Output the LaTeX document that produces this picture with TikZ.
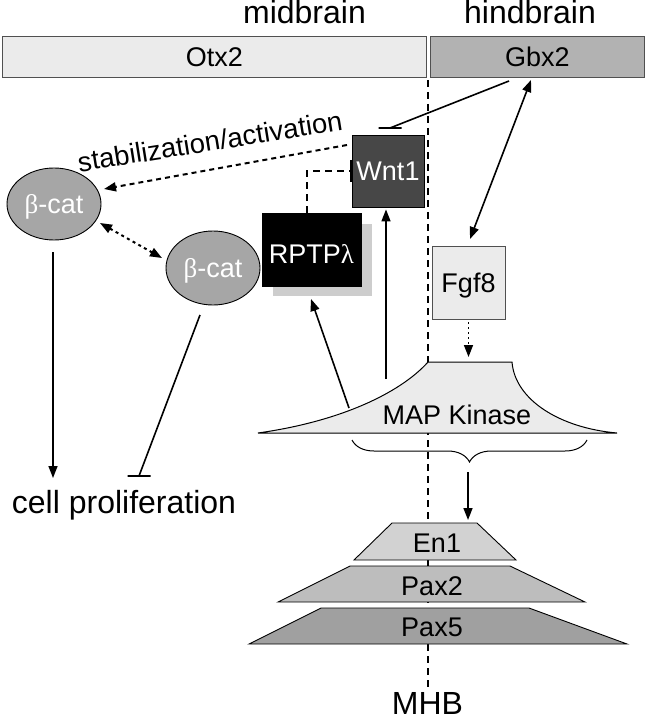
\documentclass[tikz,border=0pt]{standalone}
\usepackage{fontspec}
\setmainfont{Liberation Sans}
\newfontfamily\greekfont{Liberation Serif}
\usetikzlibrary{arrows.meta,decorations.pathreplacing,shapes.geometric,calc}
\definecolor{barlight}{HTML}{EBEBEB}
\definecolor{bargbx}{HTML}{B2B2B2}
\definecolor{catgray}{HTML}{A6A6A6}
\definecolor{wntgray}{HTML}{474747}
\definecolor{shadowgray}{HTML}{CDCDCD}
\definecolor{engray}{HTML}{D2D2D2}
\definecolor{paxtwo}{HTML}{BDBDBD}
\definecolor{paxfive}{HTML}{A0A0A0}
\definecolor{edgegray}{HTML}{505050}
\begin{document}
\begin{tikzpicture}[x=1pt,y=-1pt,
  lab/.style={font=\fontsize{27}{31}\selectfont, text height=19.3pt, text depth=0pt, inner sep=0pt},
  biglab/.style={font=\fontsize{32}{36}\selectfont, inner sep=0pt},
  conn/.style={line width=1.6pt},
  tri/.tip={Triangle[length=12pt,width=9pt]},
  arr/.style={conn, -tri},
  darr/.style={conn, tri-tri},
  outl/.style={line width=0.9pt}]

\fill[white] (0,0) rectangle (647,719);
\useasboundingbox (0,0) rectangle (647,719);

% MHB dashed line
\coordinate (mhbtop) at (428,80);
\coordinate (mhbbot) at (428,688);
\draw[line width=1.2pt, dash pattern=on 7pt off 5pt] (mhbtop) -- (mhbbot);

% headings
\node[biglab, anchor=base] (mid) at (304.5,24) {midbrain};
\node[biglab, anchor=base] (hind) at (530,24) {hindbrain};

% bars
\node[lab, draw=edgegray, fill=barlight, outl, anchor=north west, minimum width=424, minimum height=41] (otx) at (2,36) {Otx2};
\node[lab, draw=edgegray, fill=bargbx, outl, anchor=north west, minimum width=214, minimum height=41] (gbx) at (430,36) {Gbx2};

% MAP kinase
\draw[fill=barlight, line width=1pt] (258,433) .. controls (350,420) and (405,388) .. (428,362) -- (512,362) .. controls (515,400) and (560,428) .. (617,433) -- cycle;
\node[lab] (map) at (457,414.5) {MAP Kinase};
\draw[line width=1pt, decorate, decoration={brace, mirror, amplitude=22pt}] (352,440) -- (587,440);

% boxes
\node[lab, draw=black, fill=wntgray, text=white, outl, minimum width=72, minimum height=72] (wnt) at (388,171) {Wnt1};
\fill[shadowgray] (273,224) rectangle (372,296);
\node[draw=black, fill=black, minimum width=99, minimum height=73] (rptp) at (311.5,249.5) {};
\node[lab, text=white] (rptplab) at (311.5,254) {RPTP{\greekfont λ}};
\node[lab, draw=edgegray, fill=barlight, outl, minimum width=73, minimum height=73] (fgf) at (468.5,282.5) {Fgf8};

% beta-catenin
\node[ellipse, draw=black, fill=catgray, outl, minimum width=94, minimum height=72, lab, text=white] (cat1) at (54,204) {{\greekfont β}-cat};
\node[ellipse, draw=black, fill=catgray, outl, minimum width=94, minimum height=74, lab, text=white] (cat2) at (213,268) {{\greekfont β}-cat};

% trapezoids
\draw[fill=engray, outl] (392,523) -- (477,523) -- (516,560) -- (354,560) -- cycle;
\node[lab] (en) at (437,543) {En1};
\draw[fill=paxtwo, outl] (350,566) -- (510,566) -- (585,602) -- (278,602) -- cycle;
\node[lab] (pax2) at (432,586) {Pax2};
\draw[fill=paxfive, outl] (321,608) -- (529,608) -- (627,644) -- (249,644) -- cycle;
\node[lab] (pax5) at (432,627) {Pax5};

% texts
\node[biglab, anchor=base] (cell) at (124,513) {cell proliferation};
\node[biglab, anchor=base] (mhb) at (427.5,714) {MHB};
\node[font=\fontsize{27.5}{32}\selectfont, inner sep=0pt, rotate=9.1, anchor=base] (stab) at (211.5,151) {stabilization/activation};

% connector end points
\coordinate (gbxA) at (509,81);
\coordinate (wntbar) at (390,128);
\coordinate (gbxB) at (531,80);
\coordinate (fgfA) at (470,239);
\coordinate (fgfB) at (468.5,322);
\coordinate (maptop) at (468.5,357);
\coordinate (mapW) at (386,379);
\coordinate (mapR) at (349,408);
\coordinate (rptpB) at (311,299);
\coordinate (rptpT) at (307,213);
\coordinate (wntS) at (347,145);
\coordinate (cat1S) at (104,189);
\coordinate (cat1D) at (100,223);
\coordinate (cat2U) at (162,258);
\coordinate (cat1B) at (53,252);
\coordinate (cellA) at (53,478);
\coordinate (cat2B) at (200,315);
\coordinate (cellB) at (139,476);
\coordinate (bracetip) at (468,472);
\coordinate (entop) at (468,520);

% connectors
\draw[conn] (gbxA) -- (wntbar) ++(-11.5,0) -- ++(23,0);
\draw[darr] (gbxB) -- (fgfA);
\draw[conn, dash pattern=on 2pt off 3pt, -tri] (fgfB) -- (maptop);
\draw[arr] (mapW) -- ($(wnt.south -| mapW)+(0,2)$);
\draw[arr] (mapR) -- (rptpB);
\draw[conn, dash pattern=on 7pt off 5pt, -{Bar[width=22pt]}] (rptpT) |- (wnt.west);
\draw[line width=2pt, dash pattern=on 5pt off 4pt, -tri] (wntS) -- (cat1S);
\draw[line width=2pt, dash pattern=on 3pt off 3.5pt, tri-tri] (cat1D) -- (cat2U);
\draw[arr] (cat1B) -- (cellA);
\draw[conn] (cat2B) -- (cellB) ++(-11.5,0) -- ++(23,0);
\draw[arr] (bracetip) -- (entop);
\end{tikzpicture}
\end{document}
